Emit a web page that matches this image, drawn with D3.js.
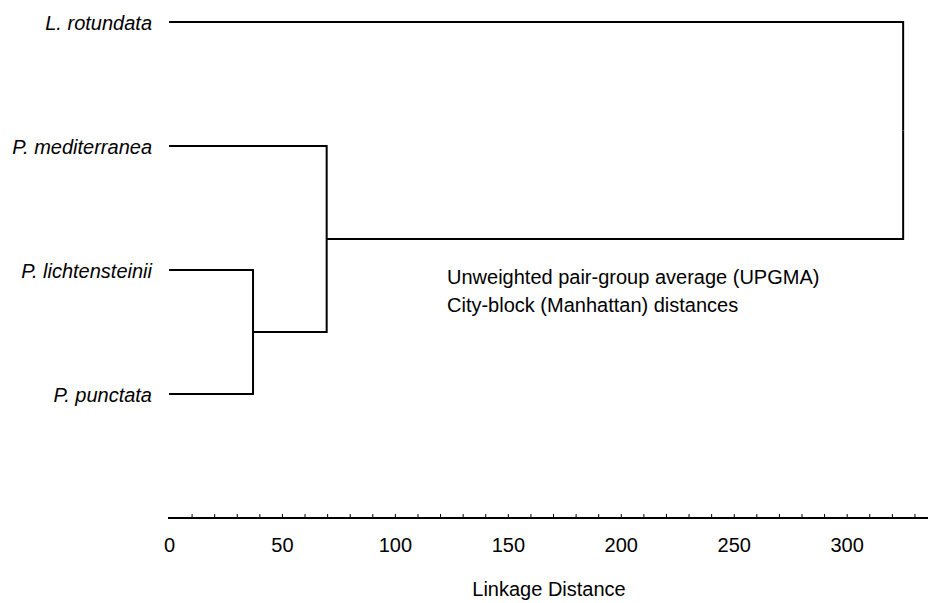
<!DOCTYPE html>
<html>
<head>
<meta charset="utf-8">
<script src="https://cdn.jsdelivr.net/npm/d3@7"></script>
<style>
  body { margin: 0; background: #fff; }
  text { font-family: "Liberation Sans", Arial, sans-serif; fill: #000; }
</style>
</head>
<body>
<div id="chart"></div>
<script>
// leaves top to bottom
var leaves = ["L. rotundata", "P. mediterranea", "P. lichtensteinii", "P. punctata"];

// UPGMA joins: left child, right child, linkage distance
var joinLeft = ["P. lichtensteinii", "c1", "L. rotundata"];
var joinRight = ["P. punctata", "P. mediterranea", "c2"];
var joinDist = [37.2, 69.8, 325];
var joinName = ["c1", "c2", "root"];

var axisTicks = d3.range(10, 340, 10);
var axisLabels = [0, 50, 100, 150, 200, 250, 300];

var notes = ["Unweighted pair-group average (UPGMA)", "City-block (Manhattan) distances"];

var width = 928, height = 603;
var fs = "20px";

var svg = d3.select("#chart").append("svg")
  .attr("width", width)
  .attr("height", height);

var x = d3.scaleLinear().domain([0, 336]).range([169, 928]);
var y = d3.scalePoint().domain(leaves).range([22, 394]);

// node positions
var nodes = {};
leaves.forEach(function(d) { nodes[d] = {y: y(d), h: 0}; });
joinName.forEach(function(n, i) {
  var a = nodes[joinLeft[i]], b = nodes[joinRight[i]];
  nodes[n] = {y: (a.y + b.y) / 2, h: joinDist[i]};
});

var g = svg.append("g")
  .attr("fill", "none")
  .attr("stroke", "#000")
  .attr("stroke-width", 2);

joinName.forEach(function(n, i) {
  var p = nodes[n];
  [joinLeft[i], joinRight[i]].forEach(function(c) {
    var ch = nodes[c];
    g.append("path")
      .attr("d", "M" + x(ch.h) + "," + ch.y + "H" + x(p.h) + "V" + p.y);
  });
});

// leaf labels
svg.selectAll(".leaf")
  .data(leaves)
  .enter().append("text")
  .attr("class", "leaf")
  .attr("x", 152)
  .attr("y", function(d) { return y(d) + 8; })
  .attr("text-anchor", "end")
  .style("font-style", "italic")
  .style("font-size", fs)
  .text(function(d) { return d; });

// axis: small ticks above the line
var axisY = 518;
var ax = svg.append("g")
  .attr("transform", "translate(0," + axisY + ")")
  .call(d3.axisTop(x).tickValues(axisTicks).tickSize(4).tickSizeOuter(0).tickFormat(""));
ax.select(".domain").attr("stroke-width", 2).attr("d", "M168,0H928");
ax.selectAll(".tick line").attr("stroke-width", 1);

var lab = svg.append("g")
  .attr("transform", "translate(0," + axisY + ")")
  .call(d3.axisBottom(x).tickValues(axisLabels).tickSize(0).tickPadding(20));
lab.select(".domain").remove();
lab.selectAll("text")
  .style("font-size", fs)
  .style("font-family", "Liberation Sans, Arial, sans-serif")
  .attr("fill", "#000");

svg.append("text")
  .attr("x", 549)
  .attr("y", 596)
  .attr("text-anchor", "middle")
  .style("font-size", fs)
  .text("Linkage Distance");

svg.selectAll(".note")
  .data(notes)
  .enter().append("text")
  .attr("class", "note")
  .attr("x", 447)
  .attr("y", function(d, i) { return 284 + i * 28; })
  .style("font-size", fs)
  .text(function(d) { return d; });
</script>
</body>
</html>
